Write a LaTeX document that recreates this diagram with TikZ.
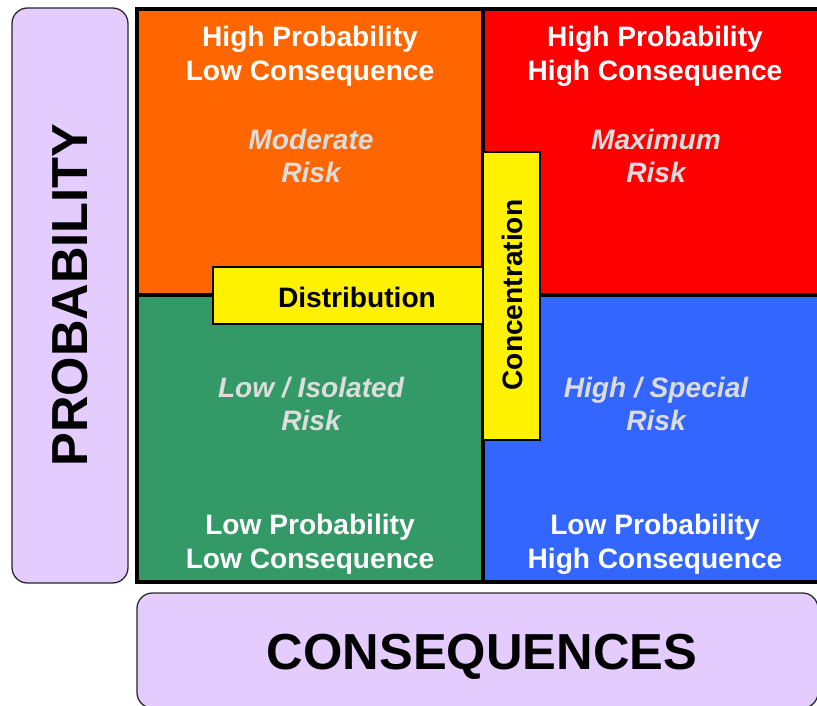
\documentclass[tikz,border=0pt]{standalone}
\usepackage{fontspec}
\setmainfont{Liberation Sans}
\definecolor{riskorange}{HTML}{FF6600}
\definecolor{riskred}{HTML}{FF0000}
\definecolor{riskgreen}{HTML}{339966}
\definecolor{riskblue}{HTML}{3366FF}
\definecolor{lilac}{HTML}{E4CCFF}
\definecolor{paletext}{HTML}{DDDDDD}
\begin{document}
\begin{tikzpicture}[x=0.025cm,y=-0.025cm,
    quadtext/.style={text=white, font=\bfseries\fontsize{20}{24}\selectfont, align=center},
    risktext/.style={text=paletext, font=\bfseries\itshape\fontsize{20}{24}\selectfont, align=center},
    axistext/.style={font=\bfseries\fontsize{36}{40}\selectfont},
    axisbox/.style={draw=black!85, fill=lilac, line width=0.9pt, rounded corners=11pt},
    tagbox/.style={draw=black, fill=yellow, line width=0.9pt}]
    \clip (0,0) rectangle (817,705);
    % axis panels
    \draw[axisbox] (12,8) rectangle (128,583);
    \draw[axisbox] (137,593) rectangle (818,708);
    \node[axistext, rotate=90] (prob) at (70,295) {PROBABILITY};
    \node[axistext] (cons) at (482,657) {CONSEQUENCES};
    % quadrants
    \fill[riskorange] (137,9) rectangle (483,295);
    \fill[riskred] (483,9) rectangle (829,295);
    \fill[riskgreen] (137,295) rectangle (483,582);
    \fill[riskblue] (483,295) rectangle (829,582);
    \draw[line width=3pt] (137,9) rectangle (829,582);
    \draw[line width=3pt] (483,9) -- (483,582);
    \draw[line width=3pt] (137,295) -- (829,295);
    % quadrant labels
    \node[quadtext] (tlhead) at (310,56) {High Probability\\Low Consequence};
    \node[quadtext] (trhead) at (655,56) {High Probability\\High Consequence};
    \node[quadtext] (blfoot) at (310,544) {Low Probability\\Low Consequence};
    \node[quadtext] (brfoot) at (655,544) {Low Probability\\High Consequence};
    \node[risktext] (tlrisk) at (311,156) {Moderate\\Risk};
    \node[risktext] (trrisk) at (656,156) {Maximum\\Risk};
    \node[risktext] (blrisk) at (311,404) {Low / Isolated\\Risk};
    \node[risktext] (brrisk) at (656,404) {High / Special\\Risk};
    % strategy tags
    \draw[tagbox] (213,267) rectangle (483,324);
    \node[font=\bfseries\fontsize{20}{24}\selectfont] (dist) at (357,297) {Distribution};
    \draw[tagbox] (483,152) rectangle (540,440);
    \node[font=\bfseries\fontsize{20}{24}\selectfont, rotate=90] (conc) at (512,295) {Concentration};
\end{tikzpicture}
\end{document}
